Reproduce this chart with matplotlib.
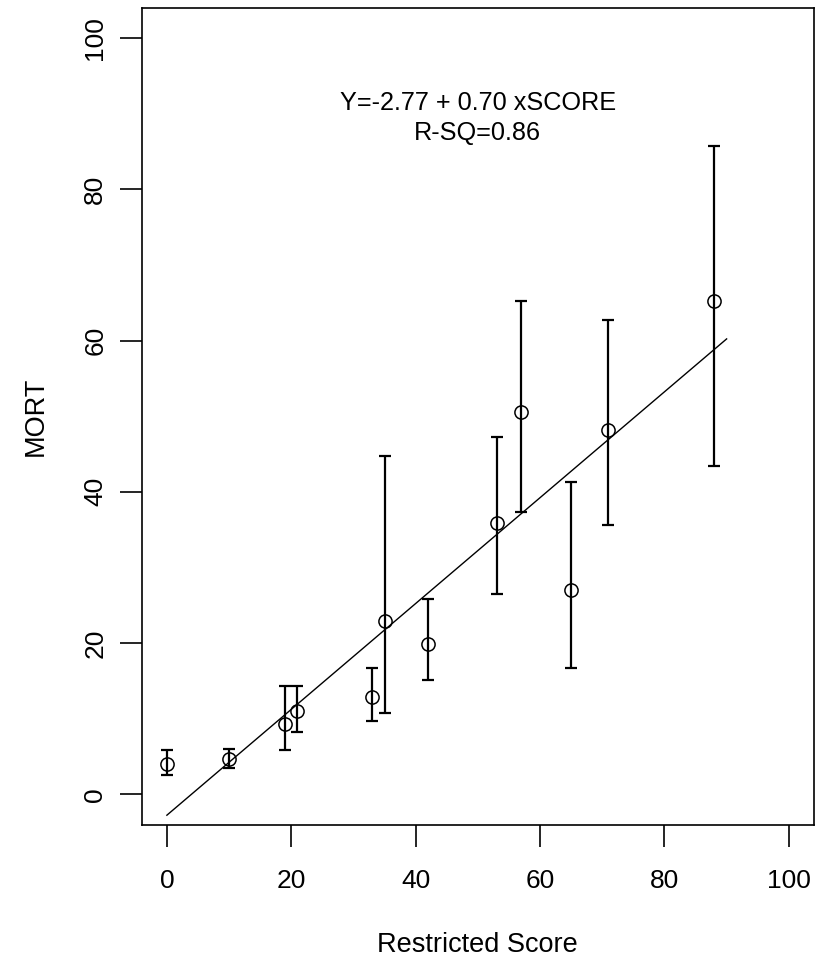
import matplotlib
matplotlib.use("Agg")
import matplotlib.pyplot as plt
import numpy as np

plt.rcParams['font.family'] = ['Liberation Sans', 'DejaVu Sans']

score = [0, 10, 19, 21, 33, 35, 42, 53, 57, 65, 71, 88]
mort = [4.0, 4.7, 9.3, 11.0, 12.9, 22.9, 19.9, 35.9, 50.5, 27.0, 48.2, 65.3]
lower = [2.6, 3.5, 5.8, 8.3, 9.7, 10.8, 15.1, 26.5, 37.3, 16.7, 35.6, 43.4]
upper = [5.8, 6.0, 14.3, 14.3, 16.7, 44.8, 25.8, 47.3, 65.3, 41.3, 62.7, 85.8]
intercept = -2.77
slope = 0.70
fit_x = [0, 90]
xticks = [0, 20, 40, 60, 80, 100]
yticks = [0, 20, 40, 60, 80, 100]

fig = plt.figure(figsize=(8.21, 9.56), dpi=100)
ax = fig.add_axes([142/821, 1-824.5/956, (813.7-142)/821, (824.5-8)/956])

mort_a = np.array(mort)
yerr = [mort_a - np.array(lower), np.array(upper) - mort_a]
ax.errorbar(score, mort, yerr=yerr, fmt='none', ecolor='black',
            elinewidth=1.6, capsize=4.5, capthick=1.6, zorder=2)
ax.plot(score, mort, 'o', mfc='none', mec='black', ms=9.5, mew=1.1, zorder=3)

fx = np.array(fit_x, dtype=float)
ax.plot(fx, intercept + slope * fx, color='black', lw=1.0, zorder=1)

ax.set_xlim(-4, 104)
ax.set_ylim(-4, 104)
ax.set_xticks(xticks)
ax.set_yticks(yticks)
ax.tick_params(direction='out', length=16, width=1.2, labelsize=19)
ax.tick_params(axis='x', pad=16)
ax.tick_params(axis='y', pad=9)
for lab in ax.get_yticklabels():
    lab.set_rotation(90)
    lab.set_va('center')
for s in ax.spines.values():
    s.set_linewidth(1.2)

ax.set_xlabel('Restricted Score', fontsize=19.5, labelpad=28)
ax.set_ylabel('MORT', fontsize=19.5, labelpad=25)

ax.text(50, 91.5, 'Y=-2.77 + 0.70 xSCORE', ha='center', va='center', fontsize=18.2)
ax.text(50, 87.5, 'R-SQ=0.86', ha='center', va='center', fontsize=18.2)

fig.savefig('out.png', dpi=100)
